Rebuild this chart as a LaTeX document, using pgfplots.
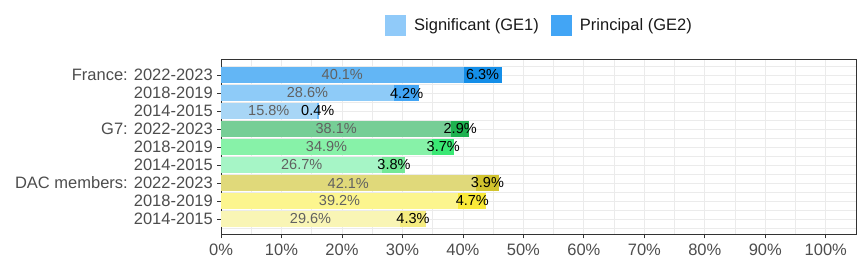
\documentclass[border=0pt]{standalone}
\usepackage{fontspec}
\setmainfont{Liberation Sans}
\usepackage{pgfplots}
\pgfplotsset{compat=1.18}

% bar colours, GE1 (a) and GE2 (b), top row first
\definecolor{fr22a}{HTML}{63B6F5}\definecolor{fr22b}{HTML}{148EE8}
\definecolor{fr18a}{HTML}{8ECBF8}\definecolor{fr18b}{HTML}{42A5F5}
\definecolor{fr14a}{HTML}{A8D6F6}\definecolor{fr14b}{HTML}{64B5F6}
\definecolor{gs22a}{HTML}{76CE96}\definecolor{gs22b}{HTML}{1EB250}
\definecolor{gs18a}{HTML}{87F2A8}\definecolor{gs18b}{HTML}{3AE874}
\definecolor{gs14a}{HTML}{A6F5C6}\definecolor{gs14b}{HTML}{73E896}
\definecolor{dc22a}{HTML}{E0D97A}\definecolor{dc22b}{HTML}{D2C42E}
\definecolor{dc18a}{HTML}{FCF58E}\definecolor{dc18b}{HTML}{FAEA3A}
\definecolor{dc14a}{HTML}{F9F5B5}\definecolor{dc14b}{HTML}{F5EC80}
\definecolor{legA}{HTML}{90CAF9}\definecolor{legB}{HTML}{42A5F5}
\definecolor{gridgrey}{HTML}{EBEBEB}
\definecolor{labgrey}{HTML}{4D4D4D}

\pgfplotsset{
  seg/.style={draw=none, forget plot,
    visualization depends on=rawx \as \rx,
    nodes near coords={\ifdim\rx pt=0pt\else\pgfmathprintnumber[fixed,fixed zerofill,precision=1]{\rx}\%\fi},
    every node near coord/.append style={font=\fontsize{14.5}{16}\selectfont,
      anchor=center, inner sep=0pt}},
  ga/.style={seg, every node near coord/.append style={text=black!62}},
  gb/.style={seg, every node near coord/.append style={text=black}},
}

\begin{document}
\begin{tikzpicture}
\useasboundingbox (0,0) rectangle (864pt,264pt);
\begin{axis}[
  at={(221pt,29.5pt)}, anchor=south west,
  scale only axis, width=635pt, height=175pt,
  xbar stacked, bar width=16pt,
  xmin=0, xmax=105, ymin=0.139, ymax=9.861,
  xtick={0,10,...,100}, minor xtick={5,15,...,95},
  xticklabel={\pgfmathprintnumber{\tick}\%},
  ytick={1,...,9}, minor ytick={0.5,1.5,...,9.5},
  yticklabels={2014-2015,2018-2019,DAC members: 2022-2023,
               2014-2015,2018-2019,G7: 2022-2023,
               2014-2015,2018-2019,France: 2022-2023},
  grid=both,
  major grid style={color=gridgrey, line width=0.8pt},
  minor grid style={color=gridgrey, line width=0.8pt},
  axis line style={color=black!80, line width=1pt},
  tick style={color=black!80, line width=0.8pt},
  major tick length=4pt, minor tick length=0pt,
  tick align=outside, xtick pos=left, ytick pos=left,
  ticklabel style={font=\fontsize{16.5}{18}\selectfont, text=labgrey},
  yticklabel style={inner sep=0pt, xshift=-4pt},
  xticklabel style={inner sep=0pt, yshift=-5pt},
  /pgf/number format/assume math mode=true,
  legend style={at={(0.5,1.197)}, anchor=center, draw=none, fill=none,
    legend columns=-1, font=\fontsize{16.5}{18}\selectfont,
    nodes={inner sep=0pt, text=black!90},
    /tikz/every odd column/.append style={column sep=8pt},
    /tikz/every even column/.append style={column sep=12pt}},
  legend image code/.code={\fill[#1, draw=none] (0pt,-10.5pt) rectangle (21pt,10.5pt);},
]
% Significant (GE1)
\addplot[ga, fill=fr22a] coordinates {(40.1,9) (0,8) (0,7) (0,6) (0,5) (0,4) (0,3) (0,2) (0,1)};
\addplot[ga, fill=fr18a] coordinates {(0,9) (28.6,8) (0,7) (0,6) (0,5) (0,4) (0,3) (0,2) (0,1)};
\addplot[ga, fill=fr14a] coordinates {(0,9) (0,8) (15.8,7) (0,6) (0,5) (0,4) (0,3) (0,2) (0,1)};
\addplot[ga, fill=gs22a] coordinates {(0,9) (0,8) (0,7) (38.1,6) (0,5) (0,4) (0,3) (0,2) (0,1)};
\addplot[ga, fill=gs18a] coordinates {(0,9) (0,8) (0,7) (0,6) (34.9,5) (0,4) (0,3) (0,2) (0,1)};
\addplot[ga, fill=gs14a] coordinates {(0,9) (0,8) (0,7) (0,6) (0,5) (26.7,4) (0,3) (0,2) (0,1)};
\addplot[ga, fill=dc22a] coordinates {(0,9) (0,8) (0,7) (0,6) (0,5) (0,4) (42.1,3) (0,2) (0,1)};
\addplot[ga, fill=dc18a] coordinates {(0,9) (0,8) (0,7) (0,6) (0,5) (0,4) (0,3) (39.2,2) (0,1)};
\addplot[ga, fill=dc14a] coordinates {(0,9) (0,8) (0,7) (0,6) (0,5) (0,4) (0,3) (0,2) (29.6,1)};
% Principal (GE2)
\addplot[gb, fill=fr22b] coordinates {(6.3,9) (0,8) (0,7) (0,6) (0,5) (0,4) (0,3) (0,2) (0,1)};
\addplot[gb, fill=fr18b] coordinates {(0,9) (4.2,8) (0,7) (0,6) (0,5) (0,4) (0,3) (0,2) (0,1)};
\addplot[gb, fill=fr14b] coordinates {(0,9) (0,8) (0.4,7) (0,6) (0,5) (0,4) (0,3) (0,2) (0,1)};
\addplot[gb, fill=gs22b] coordinates {(0,9) (0,8) (0,7) (2.9,6) (0,5) (0,4) (0,3) (0,2) (0,1)};
\addplot[gb, fill=gs18b] coordinates {(0,9) (0,8) (0,7) (0,6) (3.7,5) (0,4) (0,3) (0,2) (0,1)};
\addplot[gb, fill=gs14b] coordinates {(0,9) (0,8) (0,7) (0,6) (0,5) (3.8,4) (0,3) (0,2) (0,1)};
\addplot[gb, fill=dc22b] coordinates {(0,9) (0,8) (0,7) (0,6) (0,5) (0,4) (3.9,3) (0,2) (0,1)};
\addplot[gb, fill=dc18b] coordinates {(0,9) (0,8) (0,7) (0,6) (0,5) (0,4) (0,3) (4.7,2) (0,1)};
\addplot[gb, fill=dc14b] coordinates {(0,9) (0,8) (0,7) (0,6) (0,5) (0,4) (0,3) (0,2) (4.3,1)};
\addlegendimage{fill=legA}\addlegendentry{Significant (GE1)}
\addlegendimage{fill=legB}\addlegendentry{Principal (GE2)}
\end{axis}
\end{tikzpicture}
\end{document}
